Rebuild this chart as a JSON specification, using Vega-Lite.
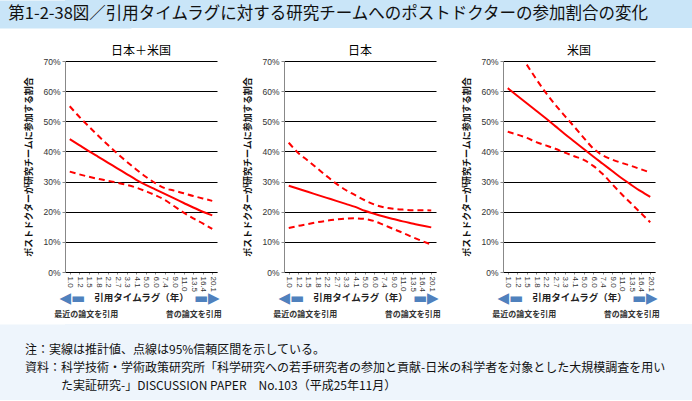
{
  "$schema": "https://vega.github.io/schema/vega-lite/v6.json",
  "background": "white",
  "padding": 0,
  "spacing": 6,
  "columns": 1,
  "align": "none",
  "concat": [
    {
      "width": 627,
      "height": 28,
      "view": {"fill": "#c9e5f8", "stroke": null},
      "data": {"values": [{"t": "\u200b\u2002第1-2-38図／引用タイムラグに対する研究チームへのポストドクターの参加割合の変化"}]},
      "mark": {"type": "text", "align": "left", "baseline": "middle", "fontSize": 16.5, "dx": -65, "color": "#111"},
      "encoding": {
        "text": {"field": "t"},
        "x": {"datum": 0, "type": "quantitative", "scale": {"domain": [0, 1]}, "axis": null},
        "y": {
          "datum": 0.5, "type": "quantitative", "scale": {"domain": [0, 1]},
          "axis": {"domain": true, "domainWidth": 132, "domainColor": "#c9e5f8", "domainCap": "butt",
                   "labels": false, "ticks": false, "grid": false, "title": null}
        }
      }
    },
    {
      "data": {
        "values": [
          {"r": "日本＋米国", "lag": "1.0", "est": 44.1, "hi": 55.0, "lo": 33.3},
          {"r": "日本＋米国", "lag": "1.2", "est": 42.1, "hi": 51.5, "lo": 32.4},
          {"r": "日本＋米国", "lag": "1.5", "est": 40.1, "hi": 48.3, "lo": 31.6},
          {"r": "日本＋米国", "lag": "1.8", "est": 38.2, "hi": 45.2, "lo": 30.9},
          {"r": "日本＋米国", "lag": "2.2", "est": 36.3, "hi": 42.2, "lo": 30.3},
          {"r": "日本＋米国", "lag": "2.7", "est": 34.4, "hi": 39.3, "lo": 29.6},
          {"r": "日本＋米国", "lag": "3.3", "est": 32.5, "hi": 36.6, "lo": 28.9},
          {"r": "日本＋米国", "lag": "4.1", "est": 30.6, "hi": 34.0, "lo": 28.0},
          {"r": "日本＋米国", "lag": "5.0", "est": 28.9, "hi": 31.6, "lo": 26.8},
          {"r": "日本＋米国", "lag": "6.0", "est": 27.4, "hi": 29.5, "lo": 25.5},
          {"r": "日本＋米国", "lag": "7.4", "est": 25.9, "hi": 27.8, "lo": 23.9},
          {"r": "日本＋米国", "lag": "9.0", "est": 24.4, "hi": 27.0, "lo": 21.8},
          {"r": "日本＋米国", "lag": "11.0", "est": 22.9, "hi": 26.1, "lo": 19.7},
          {"r": "日本＋米国", "lag": "13.5", "est": 21.4, "hi": 25.2, "lo": 17.8},
          {"r": "日本＋米国", "lag": "16.4", "est": 20.0, "hi": 24.4, "lo": 16.1},
          {"r": "日本＋米国", "lag": "20.1", "est": 18.8, "hi": 23.6, "lo": 14.3},
          {"r": "日本", "lag": "1.0", "est": 28.6, "hi": 42.9, "lo": 14.6},
          {"r": "日本", "lag": "1.2", "est": 27.6, "hi": 39.5, "lo": 15.3},
          {"r": "日本", "lag": "1.5", "est": 26.6, "hi": 37.0, "lo": 15.9},
          {"r": "日本", "lag": "1.8", "est": 25.6, "hi": 34.4, "lo": 16.5},
          {"r": "日本", "lag": "2.2", "est": 24.6, "hi": 31.8, "lo": 17.0},
          {"r": "日本", "lag": "2.7", "est": 23.6, "hi": 29.3, "lo": 17.4},
          {"r": "日本", "lag": "3.3", "est": 22.6, "hi": 27.2, "lo": 17.7},
          {"r": "日本", "lag": "4.1", "est": 21.6, "hi": 25.5, "lo": 17.8},
          {"r": "日本", "lag": "5.0", "est": 20.3, "hi": 23.8, "lo": 17.6},
          {"r": "日本", "lag": "6.0", "est": 19.3, "hi": 22.4, "lo": 16.9},
          {"r": "日本", "lag": "7.4", "est": 18.4, "hi": 21.5, "lo": 15.6},
          {"r": "日本", "lag": "9.0", "est": 17.6, "hi": 21.0, "lo": 14.3},
          {"r": "日本", "lag": "11.0", "est": 16.8, "hi": 20.7, "lo": 13.0},
          {"r": "日本", "lag": "13.5", "est": 16.1, "hi": 20.5, "lo": 11.6},
          {"r": "日本", "lag": "16.4", "est": 15.4, "hi": 20.5, "lo": 10.3},
          {"r": "日本", "lag": "20.1", "est": 14.8, "hi": 20.4, "lo": 9.1},
          {"r": "米国", "lag": "1.0", "est": 61.0, "hi": null, "lo": 46.5},
          {"r": "米国", "lag": "1.2", "est": 58.5, "hi": null, "lo": 45.6},
          {"r": "米国", "lag": "1.5", "est": 56.0, "hi": 68.8, "lo": 44.5},
          {"r": "米国", "lag": "1.8", "est": 53.5, "hi": 64.0, "lo": 43.1},
          {"r": "米国", "lag": "2.2", "est": 51.0, "hi": 59.5, "lo": 42.0},
          {"r": "米国", "lag": "2.7", "est": 48.4, "hi": 55.5, "lo": 40.9},
          {"r": "米国", "lag": "3.3", "est": 45.8, "hi": 51.8, "lo": 39.6},
          {"r": "米国", "lag": "4.1", "est": 43.3, "hi": 48.2, "lo": 38.4},
          {"r": "米国", "lag": "5.0", "est": 40.8, "hi": 44.5, "lo": 37.2},
          {"r": "米国", "lag": "6.0", "est": 38.3, "hi": 41.0, "lo": 35.2},
          {"r": "米国", "lag": "7.4", "est": 35.9, "hi": 38.7, "lo": 32.5},
          {"r": "米国", "lag": "9.0", "est": 33.5, "hi": 37.3, "lo": 29.1},
          {"r": "米国", "lag": "11.0", "est": 31.1, "hi": 36.2, "lo": 25.8},
          {"r": "米国", "lag": "13.5", "est": 28.9, "hi": 35.2, "lo": 22.7},
          {"r": "米国", "lag": "16.4", "est": 26.8, "hi": 34.1, "lo": 19.6},
          {"r": "米国", "lag": "20.1", "est": 24.9, "hi": 33.0, "lo": 16.5}
        ]
      },
      "facet": {
        "column": {
          "field": "r", "type": "nominal",
          "sort": ["日本＋米国", "日本", "米国"],
          "header": {
            "title": "\u00a0", "titleFontSize": 1, "titlePadding": 0,
            "labelFontSize": 12, "labelColor": "#000", "labelPadding": 3
          }
        }
      },
      "spacing": {"column": 67},
      "bounds": "flush",
      "resolve": {"axis": {"y": "independent"}},
      "spec": {
        "width": 152,
        "height": 211,
        "resolve": {"axis": {"x": "independent"}},
        "layer": [
          {
            "mark": {"type": "line", "color": "#ff0000", "strokeWidth": 2, "interpolate": "monotone"},
            "encoding": {
              "x": {
                "field": "lag", "type": "ordinal",
                "sort": ["1.0","1.2","1.5","1.8","2.2","2.7","3.3","4.1","5.0","6.0","7.4","9.0","11.0","13.5","16.4","20.1"],
                "scale": {"type": "point", "padding": 0.5},
                "axis": {
                  "orient": "bottom", "labelAngle": 90, "labelFont": "Liberation Sans", "labelFontSize": 8,
                  "labelColor": "#333", "labelPadding": 2, "ticks": true, "tickSize": 2, "tickColor": "#888",
                  "domainColor": "#888", "grid": false,
                  "title": "引用タイムラグ（年）", "titleFontSize": 9.5, "titleFontWeight": "bold",
                  "titleColor": "#222", "titlePadding": 1
                }
              },
              "y": {"field": "est", "type": "quantitative", "scale": {"domain": [0, 70]}, "title": "ポストドクターが研究チームに参加する割合"}
            }
          },
          {
            "mark": {"type": "line", "color": "#ff0000", "strokeWidth": 2, "strokeDash": [6, 4], "interpolate": "monotone"},
            "encoding": {
              "x": {
                "field": "lag", "type": "ordinal",
                "sort": ["1.0","1.2","1.5","1.8","2.2","2.7","3.3","4.1","5.0","6.0","7.4","9.0","11.0","13.5","16.4","20.1"],
                "scale": {"type": "point", "padding": 0.5},
                "axis": {
                  "orient": "bottom", "values": ["1.0", "20.1"], "domain": false, "ticks": false, "grid": false,
                  "labelAngle": 0, "labelExpr": "datum.value == '1.0' ? '◀▬' : '▬▶'",
                  "labelFont": "DejaVu Sans", "labelFontSize": 15, "labelColor": "#4f81bd",
                  "labelBaseline": "middle", "labelPadding": 25, "labelAlign": "center",
                  "labelOffset": {"condition": {"test": "datum.value == '1.0'", "value": 2}, "value": -6},
                  "title": null
                }
              },
              "y": {"field": "hi", "type": "quantitative", "scale": {"domain": [0, 70]}, "title": "ポストドクターが研究チームに参加する割合"}
            }
          },
          {
            "mark": {"type": "line", "color": "#ff0000", "strokeWidth": 2, "strokeDash": [6, 4], "interpolate": "monotone"},
            "encoding": {
              "x": {
                "field": "lag", "type": "ordinal",
                "sort": ["1.0","1.2","1.5","1.8","2.2","2.7","3.3","4.1","5.0","6.0","7.4","9.0","11.0","13.5","16.4","20.1"],
                "scale": {"type": "point", "padding": 0.5},
                "axis": {
                  "orient": "bottom", "values": ["1.0", "20.1"], "domain": false, "ticks": false, "grid": false,
                  "labelAngle": 0, "labelExpr": "datum.value == '1.0' ? '最近の論文を引用' : '昔の論文を引用'",
                  "labelFontSize": 8, "labelFontWeight": "bold", "labelColor": "#333",
                  "labelBaseline": "middle", "labelPadding": 42,
                  "labelAlign": {"condition": {"test": "datum.value == '1.0'", "value": "left"}, "value": "right"},
                  "labelOffset": {"condition": {"test": "datum.value == '1.0'", "value": -16}, "value": 9},
                  "title": null
                }
              },
              "y": {"field": "lo", "type": "quantitative", "scale": {"domain": [0, 70]}, "title": "ポストドクターが研究チームに参加する割合"}
            }
          }
        ]
      }
    },
    {
      "width": 627,
      "height": 76,
      "view": {"fill": "#eef5fc", "stroke": null},
      "data": {"values": [{"t": "注：実線は推計値、点線は95%信頼区間を示している。\n資料：科学技術・学術政策研究所「科学研究への若手研究者の参加と貢献-日米の科学者を対象とした大規模調査を用い\n\u200b　　　た実証研究-」DISCUSSION PAPER　No.103（平成25年11月）"}]},
      "mark": {"type": "text", "align": "left", "baseline": "middle", "fontSize": 12, "lineHeight": 18, "lineBreak": "\n", "dx": -40, "dy": -12, "color": "#111"},
      "encoding": {
        "text": {"field": "t"},
        "x": {"datum": 0, "type": "quantitative", "scale": {"domain": [0, 1]}, "axis": null},
        "y": {
          "datum": 0.5, "type": "quantitative", "scale": {"domain": [0, 1]},
          "axis": {"domain": true, "domainWidth": 132, "domainColor": "#eef5fc", "domainCap": "butt",
                   "labels": false, "ticks": false, "grid": false, "title": null}
        }
      }
    }
  ],
  "config": {
    "font": "Noto Sans CJK JP",
    "view": {"stroke": null},
    "axisY": {
      "values": [0, 10, 20, 30, 40, 50, 60, 70],
      "labelExpr": "datum.value + '%'",
      "grid": true, "gridColor": "#000", "gridWidth": 1.2,
      "domainColor": "#888", "tickColor": "#888", "tickSize": 3,
      "labelFont": "Liberation Sans", "labelFontSize": 8.5, "labelColor": "#333", "labelPadding": 2,
      "titleFontSize": 9, "titleFontWeight": "bold", "titleColor": "#111", "titlePadding": 9
    }
  }
}
